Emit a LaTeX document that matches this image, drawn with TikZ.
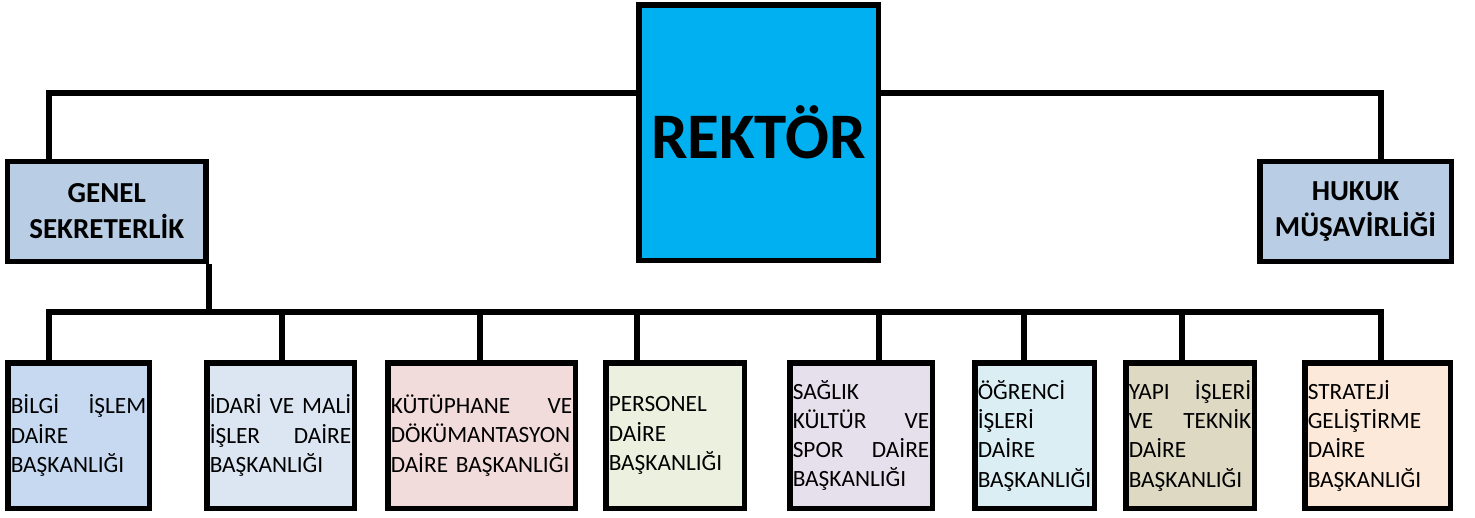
\documentclass[tikz,border=0pt]{standalone}
\usepackage{fontspec}
\setmainfont{Carlito}
\hyphenpenalty=10000
\exhyphenpenalty=10000
\hbadness=10000
\hfuzz=20pt
\definecolor{rekfill}{HTML}{00B0F0}
\definecolor{topfill}{HTML}{B9CDE5}
\definecolor{cA}{HTML}{C6D9F1}
\definecolor{cB}{HTML}{DCE6F2}
\definecolor{cC}{HTML}{F2DCDB}
\definecolor{cD}{HTML}{EBF1DE}
\definecolor{cE}{HTML}{E6E0EC}
\definecolor{cF}{HTML}{DBEEF4}
\definecolor{cG}{HTML}{DDD9C3}
\definecolor{cH}{HTML}{FDE9D9}
\begin{document}
\begin{tikzpicture}[x=1pt,y=-1pt,
  conn/.style={draw=black,line width=5.5pt,line join=miter},
  topbox/.style={draw=black,line width=5.5pt,fill=topfill,inner sep=0pt,
     minimum height=100pt,align=center,
     font=\bfseries\fontsize{29}{36}\selectfont},
  unitbox/.style={draw=black,line width=5.5pt,inner xsep=3pt,inner ysep=0pt,
     minimum height=145.5pt,align=left,
     font=\fontsize{23.3}{29.3}\selectfont}]
\useasboundingbox[fill=white] (0,0) rectangle (1475,517);

% connectors
\coordinate (topL) at (49,93);
\coordinate (topR) at (1381,93);
\coordinate (busL) at (49,312);
\coordinate (busR) at (1381,312);
\coordinate (d2) at (282,312);
\coordinate (d3) at (480,312);
\coordinate (d4) at (637,312);
\coordinate (d5) at (879,312);
\coordinate (d6) at (1024,312);
\coordinate (d7) at (1182,312);

% nodes
\node[draw=black,line width=5.5pt,fill=rekfill,minimum width=239.5pt,minimum height=255.5pt,inner sep=0pt,
  font=\bfseries\fontsize{65}{78}\selectfont] (rek) at (758.5,132.5) {REKTÖR};
\node[topbox,minimum width=198.5pt] (gen) at (106.75,211.5) {GENEL\\SEKRETERLİK};
\node[topbox,minimum width=191.5pt] (huk) at (1355.5,211.5) {HUKUK\\MÜŞAVİRLİĞİ};

\node[unitbox,fill=cA,text width=135.5pt] (b1) at (78.5,435.5) {BİLGİ\hfill İŞLEM\\DAİRE\\BAŞKANLIĞI};
\node[unitbox,fill=cB,text width=141.5pt] (b2) at (280.5,435.5) {İDARİ\hfill VE\hfill MALİ\\İŞLER\hfill DAİRE\\BAŞKANLIĞI};
\node[unitbox,fill=cC,text width=181.5pt] (b3) at (481.5,435.5) {KÜTÜPHANE\hfill VE\\DÖKÜMANTASYON\\DAİRE BAŞKANLIĞI};
\node[unitbox,fill=cD,text width=132.5pt] (b4) at (675,435.5) {PERSONEL\\DAİRE\\BAŞKANLIĞI};
\node[unitbox,fill=cE,text width=136.5pt] (b5) at (861,435.5) {SAĞLIK\\KÜLTÜR\hfill VE\\SPOR\hfill DAİRE\\BAŞKANLIĞI};
\node[unitbox,fill=cF,text width=113.5pt] (b6) at (1034.5,435.5) {ÖĞRENCİ\\İŞLERİ\\DAİRE\\BAŞKANLIĞI};
\node[unitbox,fill=cG,text width=122.5pt] (b7) at (1190,435.5) {YAPI\hfill İŞLERİ\\VE\hfill TEKNİK\\DAİRE\\BAŞKANLIĞI};
\node[unitbox,fill=cH,text width=139.5pt] (b8) at (1377.5,435.5) {STRATEJİ\\GELİŞTİRME\\DAİRE\\BAŞKANLIĞI};

% top connectors
\draw[conn] (topL -| rek.west) -- (topL) -- (topL |- gen.north);
\draw[conn] (topR -| rek.east) -- (topR) -- (topR |- huk.north);
% genel to bus
\draw[conn] (gen.south east) -- (gen.south east |- busL);
% bus
\draw[conn] (busL |- b1.north) -- (busL) -- (busR) -- (busR |- b8.north);
\foreach \d/\b in {d2/b2,d3/b3,d4/b4,d5/b5,d6/b6,d7/b7}
  \draw[conn] (\d) -- (\d |- \b.north);
\end{tikzpicture}
\end{document}
